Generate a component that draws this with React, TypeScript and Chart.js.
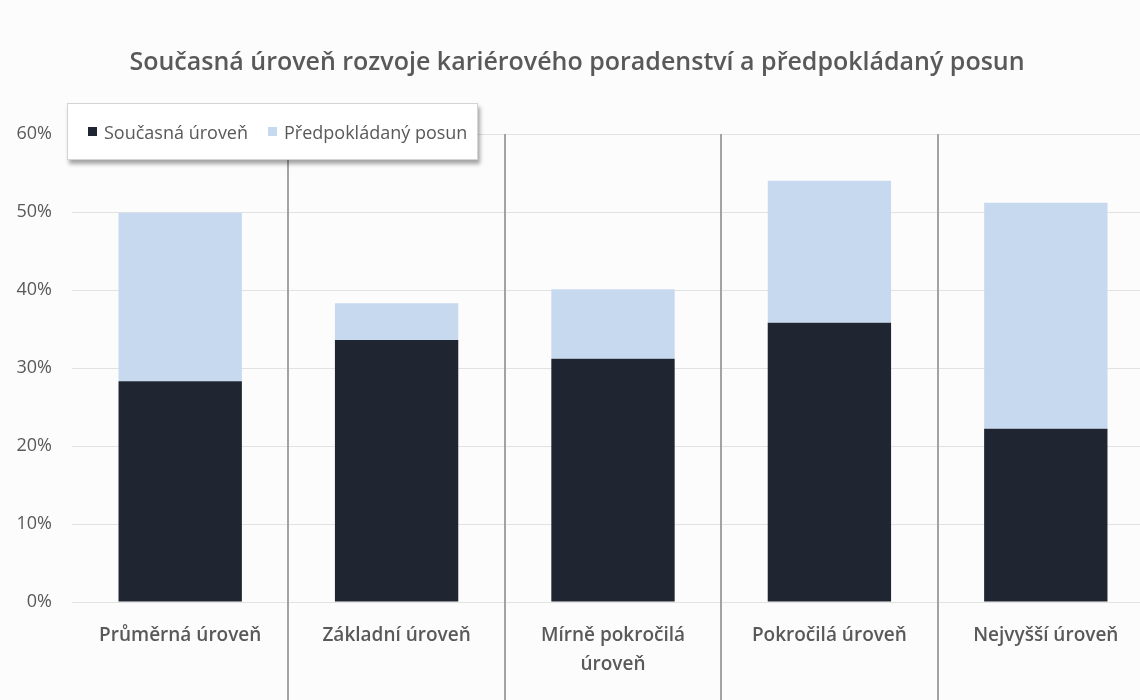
import React, { useEffect, useRef } from "react";
import { Chart, registerables } from "chart.js";

Chart.register(...registerables);

const TITLE = "Současná úroveň rozvoje kariérového poradenství a předpokládaný posun";
const CATEGORIES: (string | string[])[] = [
  "Průměrná úroveň",
  "Základní úroveň",
  ["Mírně pokročilá", "úroveň"],
  "Pokročilá úroveň",
  "Nejvyšší úroveň",
];
const SERIES_NAMES = ["Současná úroveň", "Předpokládaný posun"];
const CURRENT = [28.3, 33.6, 31.2, 35.8, 22.2];
const SHIFT = [21.6, 4.7, 8.9, 18.2, 29.0];
const Y_MIN = 0;
const Y_MAX = 60;
const Y_STEP = 10;

const DARK = "#1f2631";
const LIGHT = "#c7d9ef";
const TEXT = "#595959";
const FONT = "'Open Sans', 'DejaVu Sans', sans-serif";

const separatorPlugin = {
  id: "separators",
  beforeDatasetsDraw(chart: any) {
    const { ctx, chartArea, scales } = chart;
    const x = scales.x;
    ctx.save();
    ctx.strokeStyle = "#a3a3a3";
    ctx.lineWidth = 2;
    for (let i = 1; i < CATEGORIES.length; i++) {
      const px = Math.round((x.getPixelForTick(i - 1) + x.getPixelForTick(i)) / 2);
      ctx.beginPath();
      ctx.moveTo(px, chartArea.top);
      ctx.lineTo(px, chart.height);
      ctx.stroke();
    }
    ctx.restore();
  },
};

const bgPlugin = {
  id: "bg",
  beforeDraw(chart: any) {
    const { ctx } = chart;
    ctx.save();
    ctx.fillStyle = "#fcfcfc";
    ctx.fillRect(0, 0, chart.width, chart.height);
    ctx.restore();
  },
};

export default function App() {
  const ref = useRef<HTMLCanvasElement | null>(null);

  useEffect(() => {
    if (!ref.current) return;
    const chart = new Chart(ref.current, {
      type: "bar",
      data: {
        labels: CATEGORIES,
        datasets: [
          {
            label: SERIES_NAMES[0],
            data: CURRENT,
            backgroundColor: DARK,
            categoryPercentage: 0.57,
            barPercentage: 1,
          },
          {
            label: SERIES_NAMES[1],
            data: SHIFT,
            backgroundColor: LIGHT,
            categoryPercentage: 0.57,
            barPercentage: 1,
          },
        ],
      },
      options: {
        responsive: false,
        animation: false,
        layout: { padding: { left: 0, right: 6, top: 0, bottom: 0 } },
        plugins: {
          legend: { display: false },
          tooltip: { enabled: false },
          title: {
            display: true,
            text: TITLE,
            color: TEXT,
            font: { family: FONT, size: 25, weight: "600", lineHeight: 1.2 },
            padding: { top: 48, bottom: 56 },
          },
        },
        scales: {
          x: {
            stacked: true,
            grid: { display: false },
            border: { display: false },
            ticks: {
              color: TEXT,
              padding: 11,
              maxRotation: 0,
              autoSkip: false,
              font: { family: FONT, size: 19, weight: "600", lineHeight: 1.53 },
            },
            afterFit: (s: any) => {
              s.height = 98;
            },
          },
          y: {
            stacked: true,
            min: Y_MIN,
            max: Y_MAX,
            grid: { color: "#e2e2e2", drawTicks: false, lineWidth: 1 },
            border: { display: false },
            ticks: {
              stepSize: Y_STEP,
              color: TEXT,
              padding: 20,
              font: { family: FONT, size: 18 },
              callback: (v: any) => `${v}%`,
            },
            afterFit: (s: any) => {
              s.width = 72;
            },
          },
        },
      },
      plugins: [bgPlugin, separatorPlugin],
    });
    return () => chart.destroy();
  }, []);

  const swatch = (c: string): React.CSSProperties => ({
    display: "inline-block",
    width: 9,
    height: 9,
    background: c,
    marginRight: 7,
  });

  return (
    <div
      style={{
        position: "fixed",
        left: 0,
        top: 0,
        width: 1140,
        height: 700,
        overflow: "hidden",
        background: "#fcfcfc",
      }}
    >
      <canvas ref={ref} width={1160} height={700} style={{ width: 1160, height: 700, display: "block" }} />
      <div
        style={{
          position: "absolute",
          left: 67,
          top: 103,
          width: 411,
          height: 57,
          boxSizing: "border-box",
          background: "#ffffff",
          border: "1px solid #d4d4d4",
          boxShadow: "2px 4px 4px rgba(0,0,0,0.35)",
          display: "flex",
          alignItems: "center",
          paddingLeft: 20,
          fontFamily: FONT,
          fontSize: 18,
          color: TEXT,
          whiteSpace: "nowrap",
        }}
      >
        <span style={{ display: "inline-flex", alignItems: "center", width: 180 }}>
          <span style={swatch(DARK)} />
          {SERIES_NAMES[0]}
        </span>
        <span style={{ display: "inline-flex", alignItems: "center" }}>
          <span style={swatch(LIGHT)} />
          {SERIES_NAMES[1]}
        </span>
      </div>
    </div>
  );
}
